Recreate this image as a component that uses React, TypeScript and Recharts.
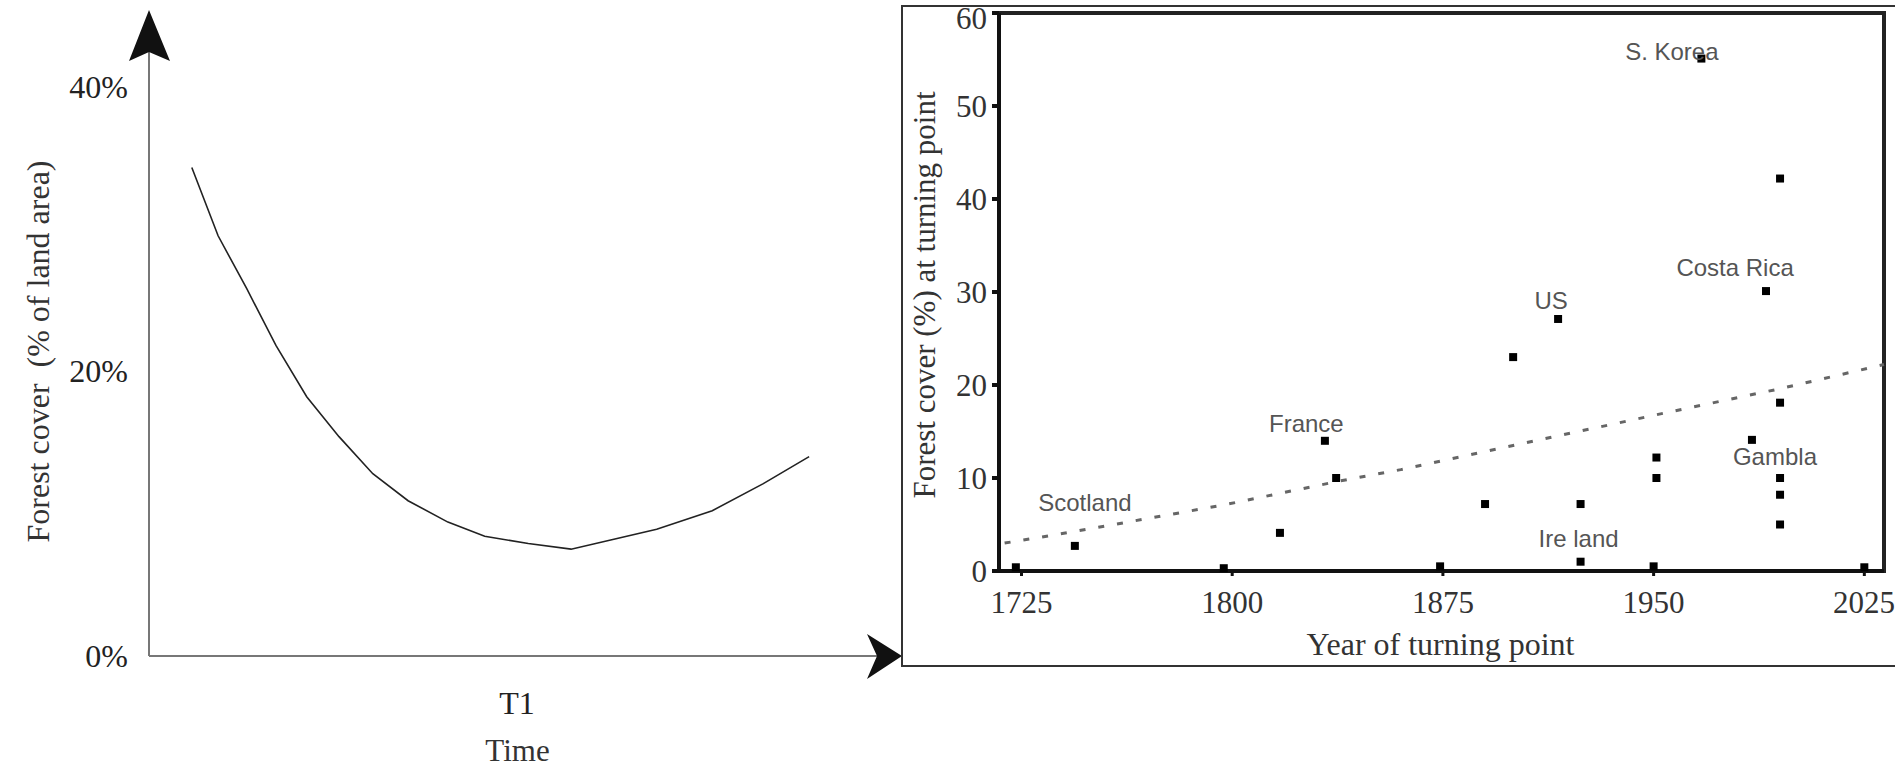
import React from "react";
import {
    LineChart,
    Line,
    ScatterChart,
    Scatter,
    XAxis,
    YAxis,
    ZAxis,
    ReferenceDot,
    ReferenceArea
} from "recharts";

// left panel: stylised forest transition curve
const curveTime = [5.7, 9.2, 13.0, 16.9, 21.0, 25.3, 29.8, 34.5, 39.8, 44.7, 50.5, 56.2, 61.9, 67.6, 75.0, 81.8, 87.9];
const curveCover = [34.3, 29.5, 25.8, 21.8, 18.2, 15.4, 12.8, 10.9, 9.4, 8.4, 7.9, 7.5, 8.2, 8.9, 10.2, 12.1, 14.0];
const coverTicks = [0, 20, 40];
const timeTicks = [49];
const timeTickLabels = ["T1"];

// right panel: year of turning point vs forest cover
const turnYears = [1967, 1995, 1990, 1916, 1900, 1995, 1985, 1951, 1951, 1995, 1995, 1995, 1890, 1924, 1924, 1874, 1950, 2025, 1833, 1837, 1817, 1744, 1723, 1797];
const turnCover = [55.1, 42.2, 30.1, 27.1, 23.0, 18.1, 14.1, 12.2, 10.0, 10.0, 8.2, 5.0, 7.2, 7.2, 1.0, 0.5, 0.5, 0.4, 14.0, 10.0, 4.1, 2.7, 0.4, 0.3];
const trendYears = [1719, 1743, 1797, 1837, 1860, 1951, 1995, 2032];
const trendCover = [3.0, 4.2, 7.1, 9.6, 10.9, 16.8, 19.6, 22.2];
const countryNames = ["S. Korea", "Costa Rica", "US", "France", "Scotland", "Ire land", "Gambla"];
const countryYears = [1956.5, 1979, 1913.5, 1826.4, 1747.6, 1923.3, 1993.2];
const countryCover = [55.9, 32.6, 29.1, 15.9, 7.4, 3.5, 12.3];
const yearTicks = [1725, 1800, 1875, 1950, 2025];
const pctTicks = [0, 10, 20, 30, 40, 50, 60];

const curveData = curveTime.map((t, i) => ({ t, cover: curveCover[i] }));
const turnData = turnYears.map((year, i) => ({ year, cover: turnCover[i] }));
const trendData = trendYears.map((year, i) => ({ year, cover: trendCover[i] }));
const countryData = countryNames.map((name, i) => ({ name, year: countryYears[i], cover: countryCover[i] }));

const SERIF = "'Liberation Serif', 'Times New Roman', serif";
const SANS = "'Liberation Sans', Arial, sans-serif";

// axis title drawn from the axis viewBox
const axisTitle = (text: string, dx: number, dy: number, rotate: boolean, size: number) => (props: any) => {
    const vb = props.viewBox || { x: 0, y: 0, width: 0, height: 0 };
    if (rotate) {
        const x = vb.x + dx;
        const y = vb.y + vb.height / 2 + dy;
        return (
            <text x={x} y={y} transform={`rotate(-90 ${x} ${y})`} textAnchor="middle" dominantBaseline="central"
                fontFamily={SERIF} fontSize={size} fill="#333" style={{ whiteSpace: "pre" }}>
                {text}
            </text>
        );
    }
    const x = vb.x + vb.width / 2 + dx;
    const y = vb.y + dy;
    return (
        <text x={x} y={y} textAnchor="middle" fontFamily={SERIF} fontSize={size} fill="#333">
            {text}
        </text>
    );
};

const UpArrow = (p: any) => (
    <polygon
        points={`${p.cx},${p.cy - 5} ${p.cx + 21},${p.cy + 46} ${p.cx},${p.cy + 37} ${p.cx - 20},${p.cy + 46}`}
        fill="#111"
    />
);

const RightArrow = (p: any) => (
    <polygon
        points={`${p.cx + 2},${p.cy} ${p.cx - 33},${p.cy + 23} ${p.cx - 23},${p.cy} ${p.cx - 33},${p.cy - 22}`}
        fill="#111"
    />
);

const CountryLabel = (p: any) => (
    <text x={p.cx} y={p.cy} textAnchor="middle" dominantBaseline="central" fontFamily={SANS} fontSize={24} fill="#555">
        {p.payload.name}
    </text>
);

const App: React.FC = () => {
    return (
        <div style={{ position: "absolute", left: 0, top: 0, width: 1895, height: 768, background: "#fff", overflow: "hidden" }}>
            <div style={{ position: "absolute", left: 0, top: 0 }}>
                <LineChart width={920} height={768} data={curveData} margin={{ top: 15, right: 20, bottom: 0, left: 0 }}>
                    <XAxis
                        type="number"
                        dataKey="t"
                        domain={[0, 100]}
                        ticks={timeTicks}
                        tickFormatter={(_v: number, i: number) => timeTickLabels[i]}
                        height={112}
                        axisLine={{ stroke: "#777", strokeWidth: 2 }}
                        tickLine={false}
                        tickSize={0}
                        tickMargin={35}
                        tick={{ fontFamily: SERIF, fontSize: 32, fill: "#222" }}
                        label={axisTitle("Time", -7, 105, false, 31)}
                    />
                    <YAxis
                        type="number"
                        dataKey="cover"
                        domain={[0, 45]}
                        ticks={coverTicks}
                        tickFormatter={(v: number) => `${v}%`}
                        width={149}
                        axisLine={{ stroke: "#777", strokeWidth: 2 }}
                        tickLine={false}
                        tickSize={0}
                        tickMargin={21}
                        tick={{ fontFamily: SERIF, fontSize: 32, fill: "#222" }}
                        label={axisTitle("Forest cover  (% of land area)", 38, 16, true, 32)}
                    />
                    <Line
                        type="linear"
                        dataKey="cover"
                        stroke="#222"
                        strokeWidth={1.6}
                        dot={false}
                        isAnimationActive={false}
                    />
                    <ReferenceDot x={0} y={45} r={0} ifOverflow="visible" shape={UpArrow} />
                    <ReferenceDot x={100} y={0} r={0} ifOverflow="visible" shape={RightArrow} />
                </LineChart>
            </div>
            <div style={{ position: "absolute", left: 901, top: 5, width: 1000, height: 658, border: "2px solid #333" }} />
            <div style={{ position: "absolute", left: 895, top: 0 }}>
                <ScatterChart width={1000} height={768} margin={{ top: 13, right: 11, bottom: 0, left: 0 }}>
                    <XAxis
                        type="number"
                        dataKey="year"
                        domain={[1717, 2032]}
                        ticks={yearTicks}
                        height={197}
                        axisLine={{ stroke: "#111", strokeWidth: 4 }}
                        tickLine={{ stroke: "#111", strokeWidth: 3 }}
                        tickSize={5}
                        tickMargin={15}
                        tick={{ fontFamily: SERIF, fontSize: 31, fill: "#333" }}
                        label={axisTitle("Year of turning point", -1, 84, false, 32)}
                    />
                    <YAxis
                        type="number"
                        dataKey="cover"
                        domain={[0, 60]}
                        ticks={pctTicks}
                        width={104}
                        axisLine={{ stroke: "#111", strokeWidth: 4 }}
                        tickLine={{ stroke: "#111", strokeWidth: 4 }}
                        tickSize={7}
                        tickMargin={5}
                        tick={{ fontFamily: SERIF, fontSize: 31, fill: "#333" }}
                        label={axisTitle("Forest cover (%) at turning point", 29, 3, true, 31)}
                    />
                    <ZAxis range={[70, 70]} />
                    <ReferenceArea x1={1717} x2={2032} y1={0} y2={60} fill="none" stroke="#222" strokeWidth={4} ifOverflow="visible" />
                    <Scatter
                        data={trendData}
                        line={{ stroke: "#666", strokeWidth: 3, strokeDasharray: "6 13" }}
                        lineType="joint"
                        shape={() => <g />}
                        isAnimationActive={false}
                    />
                    <Scatter data={turnData} shape="square" fill="#000" isAnimationActive={false} />
                    <Scatter data={countryData} shape={CountryLabel} isAnimationActive={false} />
                </ScatterChart>
            </div>
        </div>
    );
};

export default App;
